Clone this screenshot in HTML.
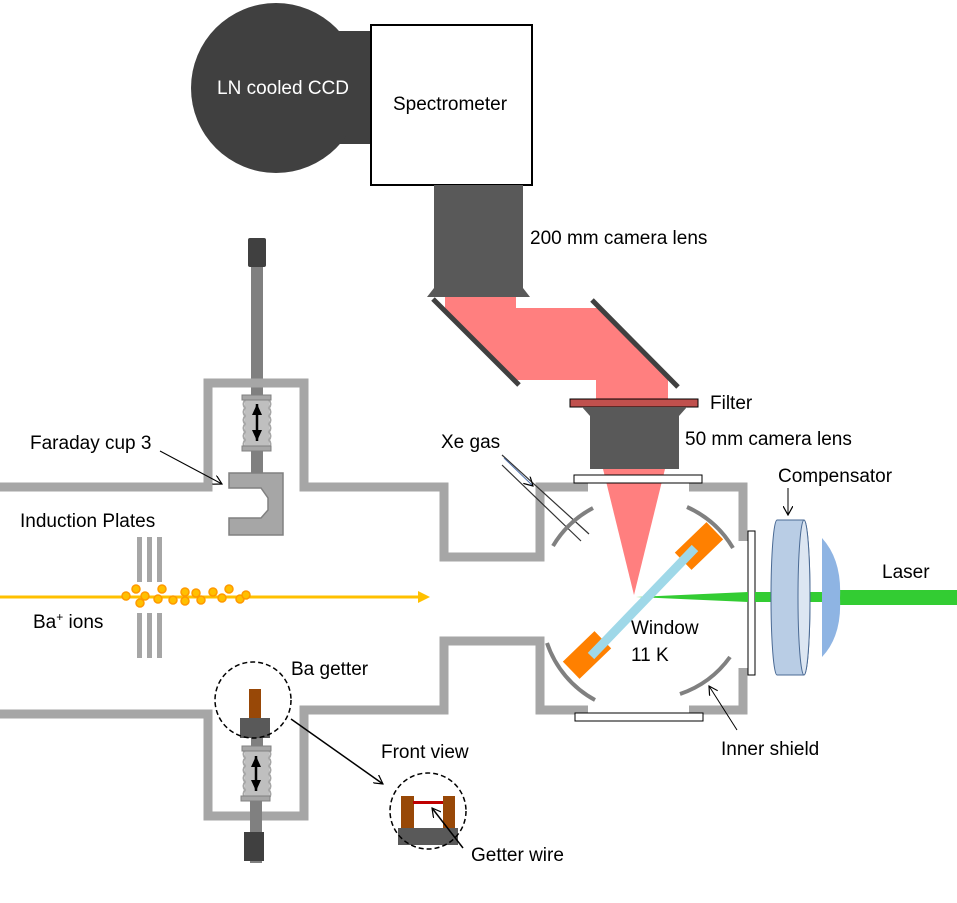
<!DOCTYPE html>
<html><head><meta charset="utf-8"><style>
html,body{margin:0;padding:0;background:#fff;}
svg{display:block;}
text{font-family:"Liberation Sans",sans-serif;font-size:19px;fill:#000;}
</style></head><body>
<svg width="957" height="903" viewBox="0 0 957 903" xmlns="http://www.w3.org/2000/svg">
<defs>
<marker id="ah" markerWidth="10" markerHeight="10" refX="9" refY="5" orient="auto" markerUnits="userSpaceOnUse"><path d="M0,0 L9,5 L0,10" fill="none" stroke="#000" stroke-width="1.2"/></marker>
<marker id="ahf" markerWidth="12" markerHeight="12" refX="11" refY="6" orient="auto-start-reverse" markerUnits="userSpaceOnUse"><path d="M0,1 L11,6 L0,11 Z" fill="#000"/></marker>
</defs>

<!-- CCD & spectrometer -->
<rect x="335" y="31" width="40" height="113" fill="#404040"/>
<circle cx="276" cy="88" r="85" fill="#404040"/>
<text x="217" y="94" style="fill:#fff">LN cooled CCD</text>
<rect x="371" y="25" width="161" height="160" fill="#fff" stroke="#000" stroke-width="2"/>
<text x="393" y="110">Spectrometer</text>

<!-- 200mm lens -->
<rect x="434" y="185" width="89" height="105" fill="#595959"/>
<polygon points="434,288 523,288 530,297 427,297" fill="#595959"/>
<text x="530" y="244">200 mm camera lens</text>

<!-- pink beam -->
<polygon points="445,297 516,297 516,308 600,308 668,376 668,400 596,400 596,380 514,380 445,311" fill="#ff7f7f"/>
<line x1="433" y1="299" x2="519" y2="385" stroke="#404040" stroke-width="5"/>
<line x1="592" y1="300" x2="678" y2="387" stroke="#404040" stroke-width="5"/>

<!-- filter & 50mm lens -->
<rect x="570" y="399" width="128" height="8" fill="#c0504d" stroke="#000" stroke-width="1"/>
<polygon points="582,407 687,407 679,416 590,416" fill="#595959"/>
<rect x="590" y="407" width="89" height="62" fill="#595959"/>
<text x="710" y="409">Filter</text>
<text x="685" y="445">50 mm camera lens</text>
<polygon points="603,469 665,469 634,595" fill="#ff7f7f"/>

<!-- Faraday cup rod -->
<rect x="251" y="240" width="12" height="235" fill="#808080"/>
<rect x="248" y="238" width="18" height="29" rx="2" fill="#404040"/>

<!-- chamber walls -->
<g fill="none" stroke="#a6a6a6" stroke-width="9" stroke-linejoin="miter">
<polyline points="0,487 208,487 208,383 304,383 304,487 444,487 444,557 540,557 540,487 588,487"/>
<polyline points="689,487 743,487 743,541"/>
<polyline points="743,668 743,710 689,710"/>
<polyline points="588,710 540,710 540,641 444,641 444,710 304,710 304,816 208,816 208,714 0,714"/>
</g>

<!-- window plates -->
<rect x="574" y="475" width="128" height="8" fill="#fff" stroke="#000" stroke-width="1"/>
<rect x="575" y="713" width="128" height="8" fill="#fff" stroke="#000" stroke-width="1"/>
<rect x="748" y="531" width="7" height="144" fill="#fff" stroke="#000" stroke-width="1"/>

<!-- FC bellows & cup -->
<rect x="245" y="398" width="24" height="50" fill="#bfbfbf"/>
<path d="M245,400 q-3,4 0,8 q-3,4 0,8 q-3,4 0,8 q-3,4 0,8 q-3,4 0,8 q-3,4 0,8 M269,400 q3,4 0,8 q3,4 0,8 q3,4 0,8 q3,4 0,8 q3,4 0,8 q3,4 0,8" fill="none" stroke="#a6a6a6" stroke-width="2"/>
<rect x="242" y="395" width="29" height="5" fill="#a6a6a6" stroke="#808080"/>
<rect x="242" y="446" width="29" height="5" fill="#a6a6a6" stroke="#808080"/>
<line x1="257" y1="404" x2="257" y2="441" stroke="#000" stroke-width="2.5" marker-start="url(#ahf)" marker-end="url(#ahf)"/>
<rect x="251" y="451" width="12" height="22" fill="#808080"/>
<polygon points="229,473 283,473 283,535 229,535 229,518 261,518 268,510 268,498 261,488 229,488" fill="#a6a6a6" stroke="#808080" stroke-width="1.5"/>
<text x="30" y="449">Faraday cup 3</text>
<line x1="160" y1="451" x2="222" y2="484" stroke="#000" stroke-width="1" marker-end="url(#ah)"/>

<!-- induction plates -->
<g fill="#a6a6a6">
<rect x="137" y="537" width="5" height="45"/><rect x="147" y="537" width="5" height="45"/><rect x="157" y="537" width="5" height="45"/>
<rect x="137" y="613" width="5" height="45"/><rect x="147" y="613" width="5" height="45"/><rect x="157" y="613" width="5" height="45"/>
</g>
<text x="20" y="527">Induction Plates</text>
<line x1="0" y1="597" x2="420" y2="597" stroke="#ffc000" stroke-width="3"/>
<polygon points="418,591 430,597 418,603" fill="#ffc000"/>
<g fill="#ffc000" stroke="#ff9900" stroke-width="1.5">
<circle cx="126" cy="596" r="4"/><circle cx="136" cy="589" r="4"/><circle cx="145" cy="596" r="4"/><circle cx="140" cy="603" r="4"/>
<circle cx="162" cy="589" r="4"/><circle cx="158" cy="599" r="4"/><circle cx="173" cy="600" r="4"/><circle cx="185" cy="592" r="4"/>
<circle cx="185" cy="601" r="4"/><circle cx="196" cy="593" r="4"/><circle cx="201" cy="600" r="4"/><circle cx="213" cy="592" r="4"/>
<circle cx="222" cy="598" r="4"/><circle cx="229" cy="589" r="4"/><circle cx="240" cy="599" r="4"/><circle cx="246" cy="595" r="4"/>
</g>
<text x="33" y="628">Ba<tspan dy="-7" style="font-size:12px">+</tspan><tspan dy="7"> ions</tspan></text>

<!-- Xe gas -->
<text x="441" y="448">Xe gas</text>
<line x1="502" y1="455" x2="589" y2="534" stroke="#333" stroke-width="1.2"/>
<line x1="502" y1="465" x2="581" y2="541" stroke="#333" stroke-width="1.2"/>
<line x1="504" y1="458" x2="533" y2="486" stroke="#4f6fa8" stroke-width="1" marker-end="url(#ah)"/>

<!-- inner shield arcs -->
<g fill="none" stroke="#808080" stroke-width="4">
<path d="M553,546 A102,102 0 0 1 593,508"/>
<path d="M687,507 A102,102 0 0 1 733,548"/>
<path d="M547,643 A102,102 0 0 0 595,700"/>
<path d="M680,694 A102,102 0 0 0 730,657"/>
</g>

<!-- green laser -->
<polygon points="636,597 748,592 748,602" fill="#33cc33"/>
<rect x="755" y="592" width="20" height="10" fill="#33cc33"/>
<rect x="805" y="592" width="20" height="10" fill="#33cc33"/>
<rect x="838" y="590" width="119" height="15" fill="#33cc33"/>

<!-- window crystal -->
<rect x="-22" y="-12" width="44" height="24" fill="#ff8000" transform="translate(699,546) rotate(-44)"/>
<rect x="-22" y="-12" width="44" height="24" fill="#ff8000" transform="translate(587,655) rotate(-44)"/>
<line x1="591" y1="656" x2="695" y2="548" stroke="#9fd8e8" stroke-width="9"/>
<text x="631" y="634">Window</text>
<text x="631" y="661">11 K</text>

<!-- compensator -->
<path d="M777,520 L804,520 A6,77.5 0 0 1 804,675 L777,675 A6,77.5 0 0 1 777,520 Z" fill="#b9cde5" stroke="#4a6a94" stroke-width="1"/>
<ellipse cx="804" cy="597.5" rx="6" ry="77.5" fill="#dce6f2" stroke="#4a6a94" stroke-width="1"/>
<path d="M822,538 Q842,560 840,598 Q842,636 822,657 Z" fill="#8eb4e3"/>
<text x="778" y="482">Compensator</text>
<line x1="788" y1="488" x2="788" y2="515" stroke="#000" stroke-width="1" marker-end="url(#ah)"/>
<text x="882" y="578">Laser</text>
<text x="721" y="755">Inner shield</text>
<line x1="737" y1="730" x2="709" y2="686" stroke="#000" stroke-width="1" marker-end="url(#ah)"/>

<!-- Ba getter -->
<rect x="249" y="689" width="12" height="30" fill="#984807"/>
<rect x="240" y="718" width="30" height="20" fill="#595959"/>
<rect x="251" y="738" width="12" height="10" fill="#808080"/>
<rect x="245" y="748" width="24" height="50" fill="#bfbfbf"/>
<path d="M245,750 q-3,4 0,8 q-3,4 0,8 q-3,4 0,8 q-3,4 0,8 q-3,4 0,8 q-3,4 0,8 M269,750 q3,4 0,8 q3,4 0,8 q3,4 0,8 q3,4 0,8 q3,4 0,8 q3,4 0,8" fill="none" stroke="#a6a6a6" stroke-width="2"/>
<rect x="242" y="746" width="29" height="5" fill="#a6a6a6" stroke="#808080"/>
<rect x="241" y="796" width="29" height="5" fill="#a6a6a6" stroke="#808080"/>
<line x1="256" y1="756" x2="256" y2="791" stroke="#000" stroke-width="2.5" marker-start="url(#ahf)" marker-end="url(#ahf)"/>
<rect x="250" y="801" width="12" height="62" fill="#808080"/>
<rect x="244" y="832" width="20" height="29" fill="#404040"/>
<circle cx="253" cy="700" r="38" fill="none" stroke="#000" stroke-width="1.5" stroke-dasharray="5,3"/>
<text x="291" y="675">Ba getter</text>
<line x1="291" y1="719" x2="383" y2="784" stroke="#000" stroke-width="1.5" marker-end="url(#ah)"/>

<!-- front view -->
<text x="381" y="758">Front view</text>
<rect x="401" y="796" width="13" height="35" fill="#984807"/>
<rect x="443" y="796" width="12" height="35" fill="#984807"/>
<rect x="413" y="801" width="30" height="3" fill="#c00000"/>
<rect x="398" y="828" width="60" height="17" fill="#595959"/>
<circle cx="428" cy="811" r="38" fill="none" stroke="#000" stroke-width="1.5" stroke-dasharray="5,3"/>
<line x1="463" y1="848" x2="432" y2="808" stroke="#000" stroke-width="1.5" marker-end="url(#ah)"/>
<text x="471" y="861">Getter wire</text>
</svg>
</body></html>
